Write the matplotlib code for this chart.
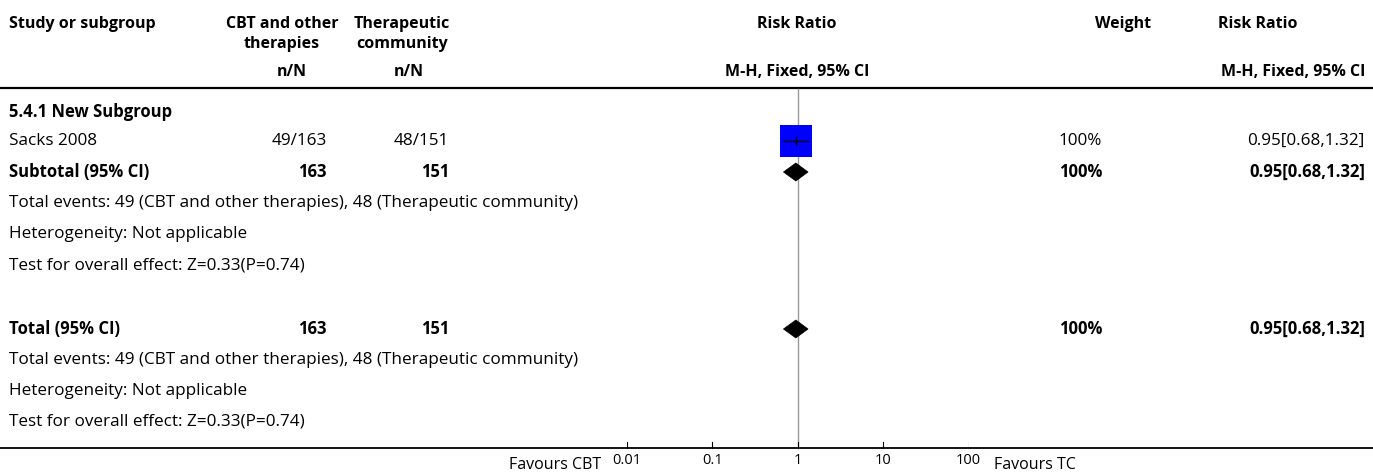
import matplotlib
matplotlib.use("Agg")
import matplotlib.pyplot as plt
from matplotlib.patches import Polygon

plt.rcParams['font.family'] = ['Open Sans', 'DejaVu Sans']

# ---- data ----
study_names = ["Sacks 2008"]
cbt_events = [49]
cbt_totals = [163]
tc_events = [48]
tc_totals = [151]
study_rr = [0.95]
study_lo = [0.68]
study_hi = [1.32]
study_weight = ["100%"]

subgroup_label = "5.4.1 New Subgroup"
pooled_rr = 0.95
pooled_lo = 0.68
pooled_hi = 1.32
pooled_weight = "100%"
total_events_text = "Total events: 49 (CBT and other therapies), 48 (Therapeutic community)"
heterogeneity_text = "Heterogeneity: Not applicable"
overall_text = "Test for overall effect: Z=0.33(P=0.74)"
tick_values = [0.01, 0.1, 1, 10, 100]
tick_labels = ["0.01", "0.1", "1", "10", "100"]
left_label = "Favours CBT"
right_label = "Favours TC"

W, H = 1373, 475
fig = plt.figure(figsize=(W / 100, H / 100), dpi=100)
ax = fig.add_axes([0, 0, 1, 1])
ax.set_xlim(0, W)
ax.set_ylim(H, 0)
ax.axis('off')

# forest axis: 0.01 at x=627, 100 at x=968.5
x0, x1 = 627, 968.5
fax = fig.add_axes([x0 / W, 0, (x1 - x0) / W, 1])
fax.set_xscale('log')
fax.set_xlim(0.01, 100)
fax.set_ylim(H, 0)
fax.axis('off')
fax.patch.set_alpha(0)

FS = 12.3              # row text
BFS = 12.0             # bold row text
HFS = 11.5             # header text
XL = 9                 # left text edge
C1, C2 = 327, 449      # right edges of n/N columns
CW = 1102              # weight right edge
CR = 1365              # RR text right edge

def bold(x, y, s, ha='left', fs=BFS):
    ax.text(x, y, s, ha=ha, va='center', fontsize=fs, fontweight='bold', color='black')

def norm(x, y, s, ha='left'):
    ax.text(x, y, s, ha=ha, va='center', fontsize=FS, color='black')

# header
bold(XL, 24, "Study or subgroup", fs=HFS)
bold(282, 24, "CBT and other", ha='center', fs=HFS)
bold(282, 44, "therapies", ha='center', fs=HFS)
bold(402, 24, "Therapeutic", ha='center', fs=HFS)
bold(402, 44, "community", ha='center', fs=HFS)
bold(797, 24, "Risk Ratio", ha='center', fs=HFS)
bold(1123, 24, "Weight", ha='center', fs=HFS)
bold(1258, 24, "Risk Ratio", ha='center', fs=HFS)
bold(292, 72, "n/N", ha='center', fs=HFS)
bold(409, 72, "n/N", ha='center', fs=HFS)
bold(797, 72, "M-H, Fixed, 95% CI", ha='center', fs=HFS)
bold(CR, 72, "M-H, Fixed, 95% CI", ha='right', fs=HFS)
ax.plot([0, W], [88, 88], color='black', lw=1.6, solid_capstyle='butt')

# vertical line of no effect
fax.plot([1, 1], [89, 448], color='#999999', lw=1, zorder=1)

# subgroup
bold(XL, 112, subgroup_label)
ys = [141]
for i, name in enumerate(study_names):
    y = ys[i]
    norm(XL, y, name)
    norm(C1, y, f"{cbt_events[i]}/{cbt_totals[i]}", ha='right')
    norm(C2, y, f"{tc_events[i]}/{tc_totals[i]}", ha='right')
    fax.plot([study_rr[i]], [y], marker='s', markersize=22.5, color='#0000ff',
             markeredgewidth=0, zorder=3)
    fax.plot([study_lo[i], study_hi[i]], [y, y], color='black', lw=1, zorder=4)
    fax.plot([study_rr[i], study_rr[i]], [y - 4, y + 4], color='black', lw=1, zorder=4)
    norm(CW, y, study_weight[i], ha='right')
    norm(CR, y, f"{study_rr[i]:.2f}[{study_lo[i]:.2f},{study_hi[i]:.2f}]", ha='right')

def diamond(y):
    fax.add_patch(Polygon([(pooled_lo, y), (pooled_rr, y - 9), (pooled_hi, y), (pooled_rr, y + 9)],
                          closed=True, facecolor='black', edgecolor='black', lw=0.5, zorder=3))

def summary_block(label, y):
    bold(XL, y, label)
    bold(C1, y, str(sum(cbt_totals)), ha='right')
    bold(C2, y, str(sum(tc_totals)), ha='right')
    diamond(y)
    bold(CW, y, pooled_weight, ha='right')
    bold(CR, y, f"{pooled_rr:.2f}[{pooled_lo:.2f},{pooled_hi:.2f}]", ha='right')
    norm(XL, y + 31, total_events_text)
    norm(XL, y + 62, heterogeneity_text)
    norm(XL, y + 93, overall_text)

summary_block("Subtotal (95% CI)", 172)
summary_block("Total (95% CI)", 329)

# bottom axis
ax.plot([0, W], [448, 448], color='black', lw=1.3)
for v, lab in zip(tick_values, tick_labels):
    fax.plot([v, v], [442, 448], color='black', lw=0.8)
    fax.text(v, 461, lab, ha='center', va='center', fontsize=10.5, color='black')
ax.text(601, 465, left_label, ha='right', va='center', fontsize=11.5, color='black')
ax.text(994, 465, right_label, ha='left', va='center', fontsize=11.5, color='black')

fig.savefig("out.png", dpi=100)
